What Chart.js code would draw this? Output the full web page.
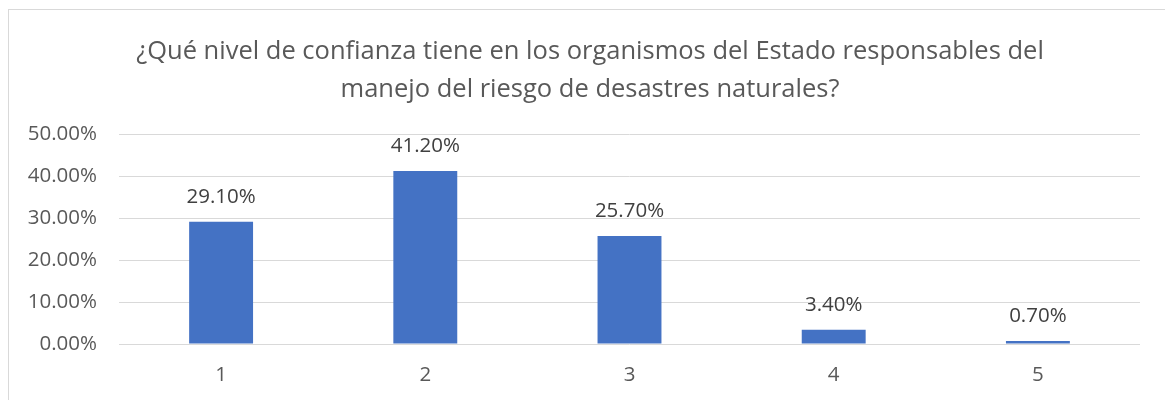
<!DOCTYPE html>
<html>
<head>
<meta charset="utf-8">
<script src="https://cdn.jsdelivr.net/npm/chart.js@4.4.0/dist/chart.umd.min.js"></script>
<style>
html,body{margin:0;padding:0;background:#fff;}
#wrap{position:relative;width:1165px;height:400px;overflow:hidden;}
#frame{position:absolute;left:8px;top:9px;width:1200px;height:450px;border:1px solid #d9d9d9;box-sizing:border-box;}
canvas{position:absolute;left:0;top:0;}
</style>
</head>
<body>
<div id="wrap">
<div id="frame"></div>
<canvas id="c" width="1165" height="400"></canvas>
</div>
<script>
const categories = ["1", "2", "3", "4", "5"];
const values = [29.1, 41.2, 25.7, 3.4, 0.7];
const titleLines = ["¿Qué nivel de confianza tiene en los organismos del Estado responsables del", "manejo del riesgo de desastres naturales?"];
const yMax = 50;
const yStep = 10;

const FONT = "'Open Sans', 'Noto Sans', sans-serif";
const TXT = '#595959';

const dataLabels = {
  id: 'dataLabels',
  afterLayout(chart) {
    if (chart.titleBlock) { chart.titleBlock.left = 40; }
  },
  afterDatasetsDraw(chart) {
    const ctx = chart.ctx;
    const meta = chart.getDatasetMeta(0);
    ctx.save();
    ctx.font = "20.5px " + FONT;
    ctx.fillStyle = '#404040';
    ctx.textAlign = 'center';
    ctx.textBaseline = 'middle';
    meta.data.forEach((bar, i) => {
      ctx.fillText(values[i].toFixed(2) + '%', bar.x, bar.y - 25);
    });
    ctx.restore();
  }
};

new Chart(document.getElementById('c'), {
  type: 'bar',
  data: {
    labels: categories,
    datasets: [{
      data: values,
      backgroundColor: '#4472C4',
      borderWidth: 0,
      barPercentage: 0.313,
      categoryPercentage: 1.0
    }]
  },
  options: {
    responsive: false,
    animation: false,
    layout: { padding: { left: 10, right: 25, top: 0, bottom: 0 } },
    plugins: {
      legend: { display: false },
      tooltip: { enabled: false },
      title: {
        display: true,
        text: titleLines,
        color: TXT,
        font: { family: FONT, size: 25.5, lineHeight: 38/25.5, weight: 'normal' },
        padding: { top: 33, bottom: 25 }
      }
    },
    scales: {
      x: {
        grid: { display: false, drawTicks: false },
        border: { display: false },
        ticks: { color: TXT, font: { family: FONT, size: 20.5 }, padding: 19 },
        afterFit(s) { s.height = 56; }
      },
      y: {
        min: 0,
        max: yMax,
        grid: { color: '#d9d9d9', lineWidth: 1, drawTicks: false },
        border: { display: false },
        ticks: {
          stepSize: yStep,
          color: TXT,
          font: { family: FONT, size: 20.5 },
          padding: 22,
          callback: v => Number(v).toFixed(2) + '%'
        },
        afterFit(s) { s.width = 109; }
      }
    }
  },
  plugins: [dataLabels]
});
</script>
</body>
</html>
